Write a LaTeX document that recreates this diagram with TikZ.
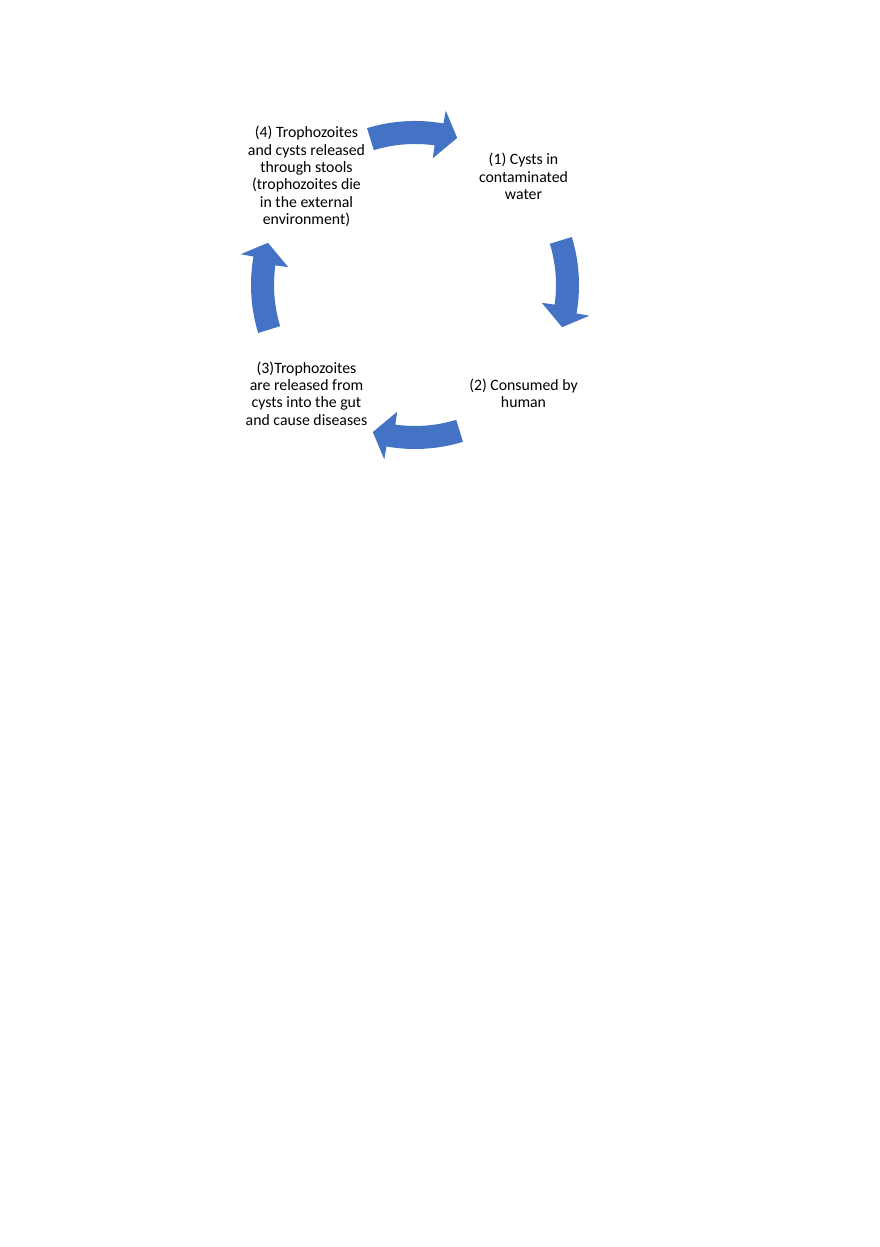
\documentclass[tikz,border=0pt]{standalone}
\usepackage{fontspec}
\setmainfont{Carlito}
\definecolor{blu}{RGB}{68,114,196}
\begin{document}
\begin{tikzpicture}[x=1pt,y=1pt,
    testo/.style={align=center, inner sep=0pt, font=\fontsize{15.8}{17.3}\selectfont}]

% Parametri
\def\rint{141}  % raggio interno della freccia
\def\rest{164}  % raggio esterno della freccia
\def\dist{108.5} % distanza dei testi dal centro

\useasboundingbox (0,0) rectangle (880,1247);
\fill[white] (0,0) rectangle (880,1247);

\coordinate (centro) at (415,962);

% Testi delle quattro fasi
\node[testo] (fase1) at ([shift={(\dist,\dist)}]centro) {(1) Cysts in\\contaminated\\water};
\node[testo] (fase2) at ([shift={(\dist,-\dist)}]centro) {(2) Consumed by\\human};
\node[testo] (fase3) at ([shift={(-\dist,-\dist)}]centro) {(3)Trophozoites\\are released from\\cysts into the gut\\and cause diseases};
\node[testo] (fase4) at ([shift={(-\dist,\dist)}]centro) {(4) Trophozoites\\and cysts released\\through stools\\(trophozoites die\\in the external\\environment)};

% Frecce curve in senso orario
\foreach \a in {90,0,270,180} {
    \fill[blu, shift={(centro)}]
        (\a+17:\rest) arc[start angle=\a+17, end angle=\a-10, radius=\rest]
        -- (\a-10:177) -- (\a-16:153) -- (\a-8:128) -- (\a-8:\rint)
        arc[start angle=\a-8, end angle=\a+17, radius=\rint] -- cycle;
}
\end{tikzpicture}
\end{document}
